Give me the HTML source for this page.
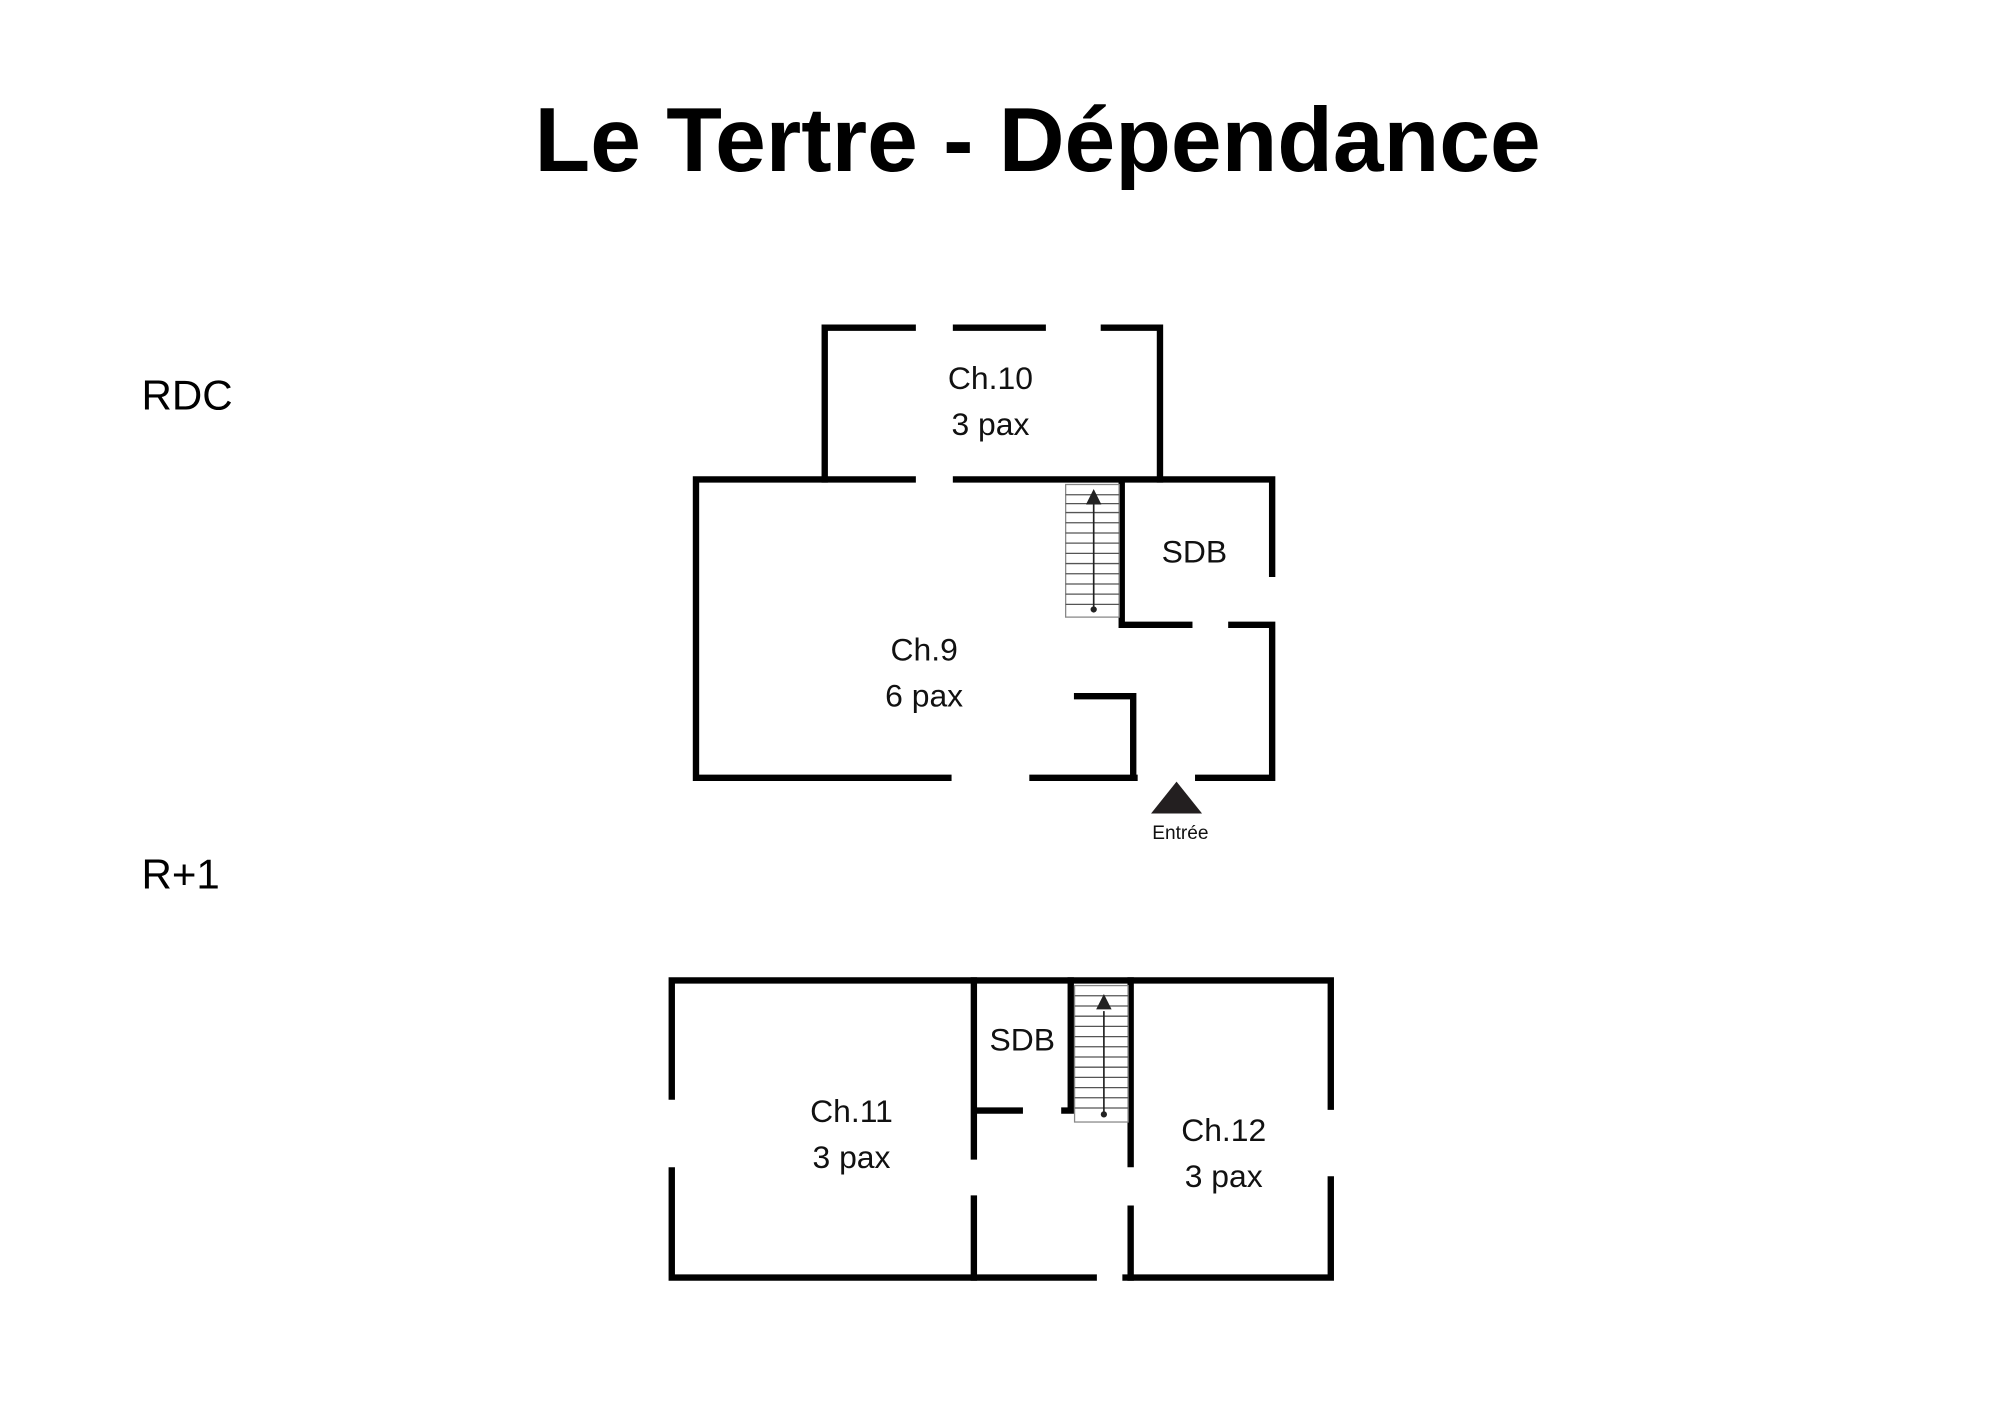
<!DOCTYPE html>
<html><head><meta charset="utf-8"><style>html,body{margin:0;padding:0;background:#fff}svg{display:block}</style></head>
<body>
<svg width="2000" height="1414" viewBox="0 0 1569 1109" preserveAspectRatio="none" xmlns="http://www.w3.org/2000/svg" font-family="'Liberation Sans','DejaVu Sans',sans-serif">
<rect width="1569" height="1109" fill="#fff"/>
<text x="814" y="134" text-anchor="middle" font-size="71.5" font-weight="bold">Le Tertre - Dépendance</text>
<text x="111" y="321" font-size="33">RDC</text>
<text x="111" y="697" font-size="33">R+1</text>
<g stroke="#000" stroke-width="5" fill="none" stroke-linecap="square">
<path d="M716 257H647V376M750 257H818M866 257H910V376"/>
<path d="M716 376H546V610H744M750 376H998V450M810 610H890M940 610H998V490H966M933 490H880V376"/>
<path d="M845 546H889V610"/>
<path d="M527 860V769H1044V868M1044 925V1002H883M858 1002H527V918"/>
<path d="M764 769V907M764 940V1002M764 871H800M835 871H840V769M887 769V913M887 948V1002"/>
</g>
<g stroke="#555" stroke-width="1">
<rect x="836" y="380" width="42" height="104" fill="none" stroke="#888"/>
<path d="M836 388H878M836 395H878M836 402H878M836 410H878M836 418H878M836 426H878M836 434H878M836 442H878M836 450H878M836 458H878M836 466H878M836 474H878"/>
<rect x="843" y="773" width="42" height="107" fill="none" stroke="#888"/>
<path d="M843 781H885M843 789H885M843 797H885M843 805H885M843 813H885M843 821H885M843 829H885M843 837H885M843 845H885M843 853H885M843 861H885M843 869H885"/>
</g>
<g stroke="#222" stroke-width="1.3" fill="#222">
<line x1="858" y1="478" x2="858" y2="392"/><path d="M853 395L858 385L863 395Z"/><circle cx="858" cy="478" r="1.8"/>
<line x1="866" y1="874" x2="866" y2="793"/><path d="M861 791L866 781L871 791Z"/><circle cx="866" cy="874" r="1.8"/>
</g>
<path d="M903 638H943L923 613Z" fill="#231f20"/>
<g font-size="25" text-anchor="middle" fill="#111">
<text x="777" y="305">Ch.10</text><text x="777" y="341">3 pax</text>
<text x="937" y="441">SDB</text>
<text x="725" y="518">Ch.9</text><text x="725" y="554">6 pax</text>
<text x="802" y="824">SDB</text>
<text x="668" y="880">Ch.11</text><text x="668" y="916">3 pax</text>
<text x="960" y="895">Ch.12</text><text x="960" y="931">3 pax</text>
<text x="926" y="658" font-size="15">Entrée</text>
</g>
</svg>
</body></html>
